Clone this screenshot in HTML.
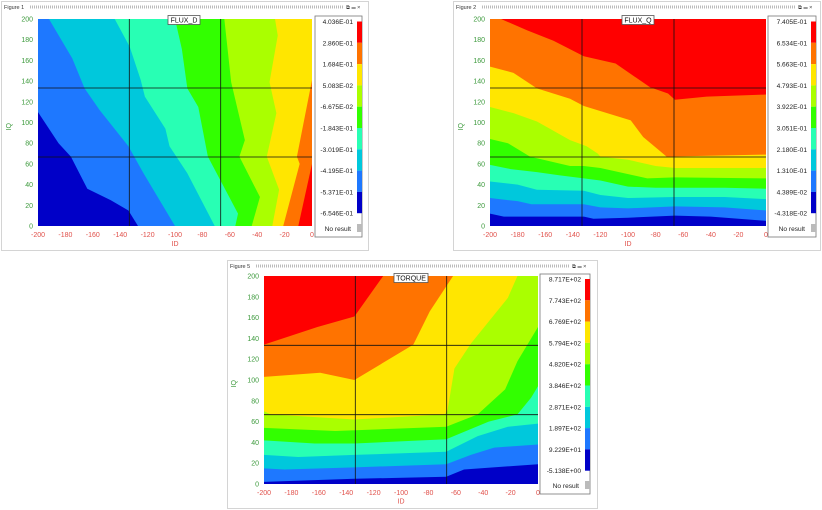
<!DOCTYPE html>
<html><head><meta charset="utf-8"><style>
html,body{margin:0;padding:0;background:#fff;width:822px;height:510px;overflow:hidden}
text{font-family:"Liberation Sans",sans-serif}
.yt{fill:#3d9a3d;font-size:7px;text-anchor:end}
.xt{fill:#e0504a;font-size:7px;text-anchor:middle}
.lg{fill:#222;font-size:6.6px;text-anchor:end}
.ft{fill:#333;font-size:5.5px}
</style></head><body>
<svg width="822" height="510" viewBox="0 0 822 510" xmlns="http://www.w3.org/2000/svg">
<defs>
<g id="bar">
<rect x="0" y="0" width="5" height="21.3" fill="#ff0000"/>
<rect x="0" y="21.3" width="5" height="21.3" fill="#ff7300"/>
<rect x="0" y="42.6" width="5" height="21.3" fill="#ffe600"/>
<rect x="0" y="63.9" width="5" height="21.3" fill="#aaff00"/>
<rect x="0" y="85.2" width="5" height="21.3" fill="#32ff00"/>
<rect x="0" y="106.5" width="5" height="21.3" fill="#28ffb4"/>
<rect x="0" y="127.8" width="5" height="21.3" fill="#00c8dc"/>
<rect x="0" y="149.1" width="5" height="21.3" fill="#1e78ff"/>
<rect x="0" y="170.4" width="5" height="21.3" fill="#0000c8"/>
</g>
</defs>

<!-- ============ FIGURE 1 ============ -->
<rect x="1.5" y="1.5" width="367" height="249" fill="#fff" stroke="#d4d4d4"/>
<text x="4" y="9" class="ft">Figure 1</text>
<line x1="30" y1="7" x2="343" y2="7" stroke="#bbb" stroke-dasharray="1,1" stroke-width="3"/>
<text x="346" y="9" class="ft">⧉ ▭ ×</text>
<svg x="38" y="19" width="274" height="207" viewBox="-200 -200 200 200" preserveAspectRatio="none">
<rect x="-200" y="-200" width="200" height="200" fill="#ff0000"/>
<polygon fill="#ff7300" points="-200,0 -200,-200 0,-200 0,-60 -10,0"/>
<polygon fill="#ffe600" points="-200,0 -200,-200 0,-200 0,-141 -11,-67 -9,-60 -21,0"/>
<polygon fill="#aaff00" points="-200,0 -200,-200 -27,-200 -25,-184 -31,-139 -26,-109 -33,-67 -24,-35 -29,0"/>
<polygon fill="#32ff00" points="-200,0 -200,-200 -64,-200 -59,-139 -49,-83 -53,-67 -38,-28 -44,0"/>
<polygon fill="#28ffb4" points="-200,0 -200,-200 -100,-200 -95,-171 -91,-133 -83,-115 -76,-67 -54,-12 -56,0"/>
<polygon fill="#00c8dc" points="-200,0 -200,-200 -144,-200 -133,-173 -125,-141 -122,-125 -107,-94 -104,-77 -91,-51 -71,0"/>
<polygon fill="#1e78ff" points="-200,0 -200,-200 -192,-200 -175,-162 -166,-133 -155,-112 -134,-77 -123,-51 -100,0"/>
<polygon fill="#0000c8" points="-200,0 -200,-110 -185,-80 -176,-67 -164,-36 -147,-25 -134,-15 -127,0"/>
</svg>
<g stroke="#111" stroke-width="0.8">
<line x1="129.3" y1="19" x2="129.3" y2="226"/><line x1="220.7" y1="19" x2="220.7" y2="226"/>
<line x1="38" y1="88" x2="312" y2="88"/><line x1="38" y1="157" x2="312" y2="157"/>
</g>
<rect x="168" y="15.5" width="32" height="9" fill="#fff" stroke="#555" stroke-width="0.8"/>
<text x="184" y="22.5" font-size="7" text-anchor="middle" fill="#111">FLUX_D</text>
<g class="yt"><text x="33" y="228.5">0</text><text x="33" y="207.8">20</text><text x="33" y="187.1">40</text><text x="33" y="166.4">60</text><text x="33" y="145.7">80</text><text x="33" y="125">100</text><text x="33" y="104.3">120</text><text x="33" y="83.6">140</text><text x="33" y="62.9">160</text><text x="33" y="42.2">180</text><text x="33" y="21.5">200</text></g>
<g class="xt"><text x="38" y="237">-200</text><text x="65.4" y="237">-180</text><text x="92.8" y="237">-160</text><text x="120.2" y="237">-140</text><text x="147.6" y="237">-120</text><text x="175" y="237">-100</text><text x="202.4" y="237">-80</text><text x="229.8" y="237">-60</text><text x="257.2" y="237">-40</text><text x="284.6" y="237">-20</text><text x="312" y="237">0</text></g>
<text x="175" y="246" class="xt" font-size="7.5">ID</text>
<text x="0" y="0" class="yt" font-size="7.5" text-anchor="middle" transform="translate(11,123) rotate(-90)">IQ</text>
<rect x="315" y="16" width="47" height="221" fill="#fff" stroke="#777" stroke-width="0.8"/>
<use href="#bar" x="357" y="21.5"/>
<g class="lg"><text x="353" y="24">4.036E-01</text><text x="353" y="45.3">2.860E-01</text><text x="353" y="66.6">1.684E-01</text><text x="353" y="87.9">5.083E-02</text><text x="353" y="109.2">-6.675E-02</text><text x="353" y="130.5">-1.843E-01</text><text x="353" y="151.8">-3.019E-01</text><text x="353" y="173.1">-4.195E-01</text><text x="353" y="194.4">-5.371E-01</text><text x="353" y="215.7">-6.546E-01</text><text x="351" y="231">No result</text></g>
<rect x="357" y="224" width="5" height="8" fill="#bbb"/>

<!-- ============ FIGURE 2 ============ -->
<rect x="453.5" y="1.5" width="367" height="249" fill="#fff" stroke="#d4d4d4"/>
<text x="456" y="9" class="ft">Figure 2</text>
<line x1="482" y1="7" x2="796" y2="7" stroke="#bbb" stroke-dasharray="1,1" stroke-width="3"/>
<text x="798" y="9" class="ft">⧉ ▭ ×</text>
<svg x="490" y="19" width="276" height="207" viewBox="-200 -200 200 200" preserveAspectRatio="none">
<rect x="-200" y="-200" width="200" height="200" fill="#ff0000"/>
<polygon fill="#ff7300" points="-200,0 -200,-200 -192,-200 -173,-189 -154,-179 -132,-164 -109,-157 -84,-134 -71,-128 -66,-122 -43,-125 0,-127 0,0"/>
<polygon fill="#ffe600" points="-200,0 -200,-154 -183,-148 -166,-133 -142,-123 -132,-116 -98,-102 -89,-86 -72,-67 0,-69 0,0"/>
<polygon fill="#aaff00" points="-200,0 -200,-115 -183,-109 -166,-101 -142,-83 -130,-77 -122,-70 -120,-67 -100,-64 -80,-58 -66,-56 -30,-56 0,-56 0,0"/>
<polygon fill="#32ff00" points="-200,0 -200,-84 -187,-80 -171,-67 -142,-58 -132,-58 -120,-56 -86,-46 -66,-47 0,-46 0,0"/>
<polygon fill="#28ffb4" points="-200,0 -200,-59 -185,-55 -166,-52 -150,-49 -132,-46 -120,-44 -100,-38 -80,-37 -66,-37 -30,-37 0,-36 0,0"/>
<polygon fill="#00c8dc" points="-200,0 -200,-43 -180,-40 -166,-35 -132,-34 -120,-30 -100,-27 -66,-28 -30,-28 0,-26 0,0"/>
<polygon fill="#1e78ff" points="-200,0 -200,-27 -180,-24 -170,-21 -132,-21 -120,-18 -100,-17 -66,-19 -30,-18 0,-15 0,0"/>
<polygon fill="#0000c8" points="-200,0 -200,-12 -190,-9 -132,-9 -125,-7 -100,-8 -66,-10 -40,-9 0,-5 0,0"/>
</svg>
<g stroke="#111" stroke-width="0.8">
<line x1="582" y1="19" x2="582" y2="226"/><line x1="674" y1="19" x2="674" y2="226"/>
<line x1="490" y1="88" x2="766" y2="88"/><line x1="490" y1="157" x2="766" y2="157"/>
</g>
<rect x="622" y="15.5" width="32" height="9" fill="#fff" stroke="#555" stroke-width="0.8"/>
<text x="638" y="22.5" font-size="7" text-anchor="middle" fill="#111">FLUX_Q</text>
<g class="yt"><text x="485" y="228.5">0</text><text x="485" y="207.8">20</text><text x="485" y="187.1">40</text><text x="485" y="166.4">60</text><text x="485" y="145.7">80</text><text x="485" y="125">100</text><text x="485" y="104.3">120</text><text x="485" y="83.6">140</text><text x="485" y="62.9">160</text><text x="485" y="42.2">180</text><text x="485" y="21.5">200</text></g>
<g class="xt"><text x="490" y="237">-200</text><text x="517.6" y="237">-180</text><text x="545.2" y="237">-160</text><text x="572.8" y="237">-140</text><text x="600.4" y="237">-120</text><text x="628" y="237">-100</text><text x="655.6" y="237">-80</text><text x="683.2" y="237">-60</text><text x="710.8" y="237">-40</text><text x="738.4" y="237">-20</text><text x="766" y="237">0</text></g>
<text x="628" y="246" class="xt" font-size="7.5">ID</text>
<text x="0" y="0" class="yt" font-size="7.5" text-anchor="middle" transform="translate(463,123) rotate(-90)">IQ</text>
<rect x="768" y="16" width="48" height="221" fill="#fff" stroke="#777" stroke-width="0.8"/>
<use href="#bar" x="811" y="21.5"/>
<g class="lg"><text x="807" y="24">7.405E-01</text><text x="807" y="45.3">6.534E-01</text><text x="807" y="66.6">5.663E-01</text><text x="807" y="87.9">4.793E-01</text><text x="807" y="109.2">3.922E-01</text><text x="807" y="130.5">3.051E-01</text><text x="807" y="151.8">2.180E-01</text><text x="807" y="173.1">1.310E-01</text><text x="807" y="194.4">4.389E-02</text><text x="807" y="215.7">-4.318E-02</text><text x="805" y="231">No result</text></g>
<rect x="811" y="224" width="5" height="8" fill="#bbb"/>

<!-- ============ FIGURE 5 ============ -->
<rect x="227.5" y="260.5" width="370" height="248" fill="#fff" stroke="#d4d4d4"/>
<text x="230" y="268" class="ft">Figure 5</text>
<line x1="256" y1="266" x2="570" y2="266" stroke="#bbb" stroke-dasharray="1,1" stroke-width="3"/>
<text x="572" y="268" class="ft">⧉ ▭ ×</text>
<svg x="264" y="276" width="274" height="208" viewBox="-200 -200 200 200" preserveAspectRatio="none">
<rect x="-200" y="-200" width="200" height="200" fill="#0000c8"/>
<polygon fill="#1e78ff" points="-200,-2 -134,-5 -67,-7 -54,-14 0,-19 0,-200 -200,-200"/>
<polygon fill="#00c8dc" points="-200,-15 -185,-14 -134,-16 -67,-19 -49,-28 -32,-35 0,-38 0,-200 -200,-200"/>
<polygon fill="#28ffb4" points="-200,-28 -175,-26 -134,-28 -67,-31 -44,-46 -22,-55 0,-58 0,-200 -200,-200"/>
<polygon fill="#32ff00" points="-200,-42 -163,-39 -134,-39 -67,-43 -36,-60 -15,-67 -5,-83 0,-94 0,-200 -200,-200"/>
<polygon fill="#aaff00" points="-200,-54 -148,-51 -67,-55 -44,-67 -24,-91 -15,-118 0,-151 0,-200 -200,-200"/>
<polygon fill="#ffe600" points="-200,-70 -195,-67 -134,-62 -68,-67 -66,-71 -61,-111 -49,-135 -22,-179 -15,-200 -200,-200"/>
<polygon fill="#ff7300" points="-200,-103 -159,-107 -134,-100 -91,-134 -79,-166 -62,-200 -200,-200"/>
<polygon fill="#ff0000" points="-200,-134 -161,-151 -134,-161 -113,-200 -200,-200"/>
</svg>
<g stroke="#111" stroke-width="0.8">
<line x1="355.3" y1="276" x2="355.3" y2="484"/><line x1="446.7" y1="276" x2="446.7" y2="484"/>
<line x1="264" y1="345.3" x2="538" y2="345.3"/><line x1="264" y1="414.7" x2="538" y2="414.7"/>
</g>
<rect x="394" y="273.5" width="34" height="9" fill="#fff" stroke="#555" stroke-width="0.8"/>
<text x="411" y="280.5" font-size="7" text-anchor="middle" fill="#111">TORQUE</text>
<g class="yt"><text x="259" y="486.5">0</text><text x="259" y="465.7">20</text><text x="259" y="444.9">40</text><text x="259" y="424.1">60</text><text x="259" y="403.3">80</text><text x="259" y="382.5">100</text><text x="259" y="361.7">120</text><text x="259" y="340.9">140</text><text x="259" y="320.1">160</text><text x="259" y="299.3">180</text><text x="259" y="278.5">200</text></g>
<g class="xt"><text x="264" y="495">-200</text><text x="291.4" y="495">-180</text><text x="318.8" y="495">-160</text><text x="346.2" y="495">-140</text><text x="373.6" y="495">-120</text><text x="401" y="495">-100</text><text x="428.4" y="495">-80</text><text x="455.8" y="495">-60</text><text x="483.2" y="495">-40</text><text x="510.6" y="495">-20</text><text x="538" y="495">0</text></g>
<text x="401" y="503.5" class="xt" font-size="7.5">ID</text>
<text x="0" y="0" class="yt" font-size="7.5" text-anchor="middle" transform="translate(236,380) rotate(-90)">IQ</text>
<rect x="540" y="274" width="50" height="220" fill="#fff" stroke="#777" stroke-width="0.8"/>
<use href="#bar" x="585" y="279"/>
<g class="lg"><text x="581" y="281.5">8.717E+02</text><text x="581" y="302.8">7.743E+02</text><text x="581" y="324.1">6.769E+02</text><text x="581" y="345.4">5.794E+02</text><text x="581" y="366.7">4.820E+02</text><text x="581" y="388">3.846E+02</text><text x="581" y="409.3">2.871E+02</text><text x="581" y="430.6">1.897E+02</text><text x="581" y="451.9">9.229E+01</text><text x="581" y="473.2">-5.138E+00</text><text x="579" y="488">No result</text></g>
<rect x="585" y="481" width="5" height="8" fill="#bbb"/>
</svg>
</body></html>
